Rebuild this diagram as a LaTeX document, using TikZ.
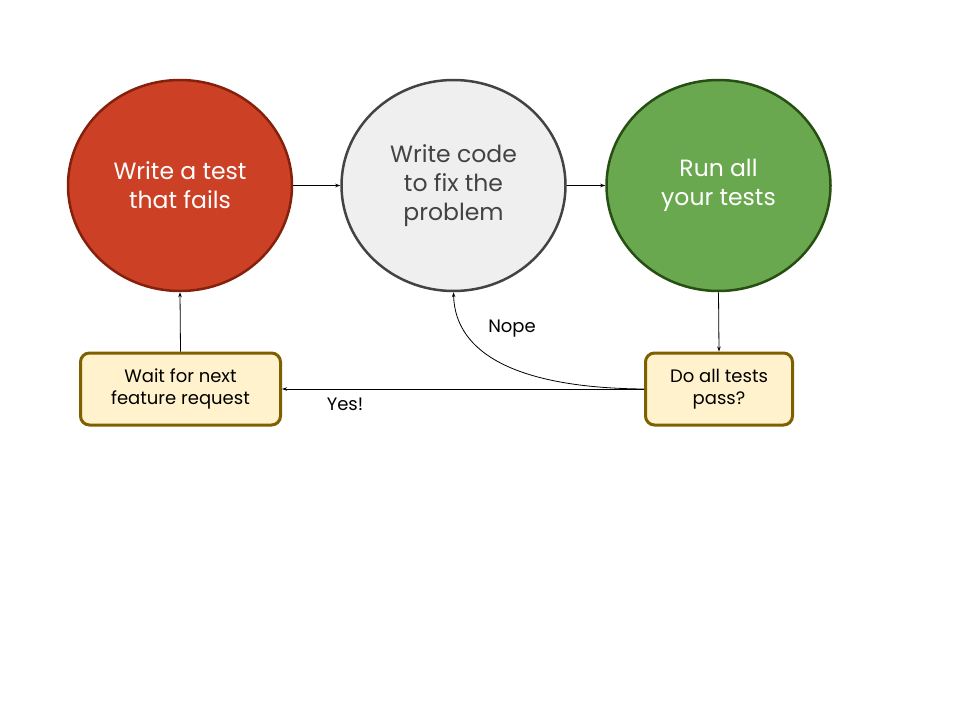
\documentclass[tikz,border=0pt]{standalone}
\usepackage{fontspec}
\setmainfont{Poppins}
\usetikzlibrary{shapes.geometric,arrows.meta}
\definecolor{redfill}{HTML}{CC4125}
\definecolor{redline}{HTML}{85200C}
\definecolor{greyfill}{HTML}{EFEFEF}
\definecolor{greyline}{HTML}{434343}
\definecolor{greenfill}{HTML}{6AA84F}
\definecolor{greenline}{HTML}{274E13}
\definecolor{boxfill}{HTML}{FFF2CC}
\definecolor{boxline}{HTML}{7F6000}
\tikzset{
  bigcirc/.style={ellipse, minimum width=224pt, minimum height=211pt, line width=2.5pt, align=center, font=\fontsize{23.5}{29}\selectfont, inner sep=0pt},
  qbox/.style={rounded corners=9pt, line width=3pt, draw=boxline, fill=boxfill, align=center, font=\fontsize{18}{22}\selectfont, inner sep=0pt, minimum height=72pt},
  conn/.style={line width=0.8pt, -{Stealth[length=5pt,width=3.5pt]}},
  lbl/.style={font=\fontsize{18}{20}\selectfont, inner sep=0pt}
}
\begin{document}
\begin{tikzpicture}[x=1pt,y=-1pt]
\useasboundingbox[fill=white] (0,0) rectangle (960,720);
\node[bigcirc, draw=redline, fill=redfill, text=white] (red) at (180,185.5) {Write a test\\that fails};
\node[bigcirc, draw=greyline, fill=greyfill, text=greyline] (grey) at (453.5,185.5) {Write code\\to fix the\\problem};
\node[bigcirc, draw=greenline, fill=greenfill, text=white] (green) at (718.5,185.5) {Run all\\your tests};
\node[qbox, minimum width=200pt] (wait) at (180.5,389) {Wait for next\\feature request};
\node[qbox, minimum width=147pt] (pass) at (719,389) {Do all tests\\pass?};
\draw[conn] (red.east) -- (grey.west);
\draw[conn] (grey.east) -- (green.west);
\draw[conn] (green.south) -- (pass.north);
\draw[conn] (pass.west) -- (wait.east);
\draw[conn] (wait.north) -- (red.south);
\draw[conn] (pass.west) .. controls (520,388) and (455,355) .. (grey.south);
\node[lbl] (nope) at (512,329) {Nope};
\node[lbl] (yes) at (345,404) {Yes!};
\end{tikzpicture}
\end{document}
